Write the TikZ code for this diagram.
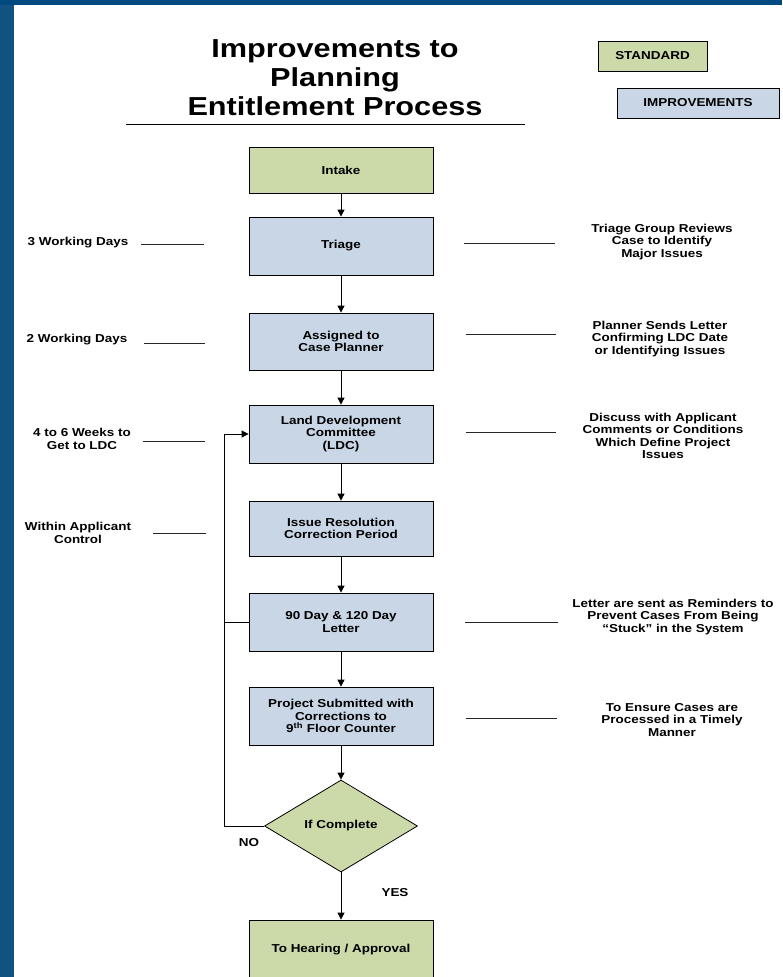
\documentclass[tikz,border=0pt]{standalone}
\usepackage{fontspec}
\newfontfamily\bodyfont{Liberation Sans}[FakeStretch=1.17]
\newfontfamily\headfont{Liberation Sans}[FakeStretch=1.18]
\usetikzlibrary{arrows.meta,shapes.geometric}

\definecolor{stdgreen}{RGB}{204,218,169}
\definecolor{impblue}{RGB}{200,214,230}
\definecolor{frameblue}{RGB}{17,82,128}
\definecolor{topblue}{RGB}{0,74,128}

\tikzset{
  txt/.style={font=\bodyfont\bfseries\fontsize{11.5}{12.4}\selectfont, align=center, inner sep=0pt},
  shadowed/.style={preaction={fill=black!45, transform canvas={xshift=1.2pt,yshift=-1.2pt}}},
  procbox/.style={txt, draw=black, line width=0.8pt, shadowed, minimum width=184pt},
  stdbox/.style={procbox, fill=stdgreen},
  impbox/.style={procbox, fill=impblue},
  flow/.style={draw=black, line width=0.8pt, -{Triangle[width=7pt,length=7pt]}},
  link/.style={draw=black, line width=0.8pt},
  tick/.style={draw=black!85, line width=1pt},
}

\begin{document}
\begin{tikzpicture}[x=1pt,y=-1pt]
  % page frame
  \useasboundingbox (0,0) rectangle (782,977);
  \fill[white] (0,0) rectangle (782,977);
  \fill[frameblue] (0,0) rectangle (14,977);
  \fill[topblue] (0,0) rectangle (782,5);

  % heading
  \node[font=\headfont\bfseries\fontsize{26}{29}\selectfont, align=center, inner sep=0pt]
    (title) at (335,78) {Improvements to\\Planning\\Entitlement Process};
  \coordinate (ulA) at (126,124);
  \coordinate (ulB) at (525,124);
  \draw[black, line width=1pt] (ulA) -- (ulB);

  % legend
  \node[stdbox, minimum width=109pt, minimum height=30pt] (legstd) at (652.5,56) {STANDARD};
  \node[impbox, minimum width=162pt, minimum height=30pt] (legimp) at (698,103) {IMPROVEMENTS};

  % process steps
  \node[stdbox, minimum height=46pt] (intake) at (341,170) {Intake};
  \node[impbox, minimum height=58pt] (triage) at (341,246) {Triage};
  \node[impbox, minimum height=57pt] (assign) at (341,341.5) {Assigned to\\Case Planner};
  \node[impbox, minimum height=58pt] (ldc) at (341,434) {Land Development\\Committee\\(LDC)};
  \node[impbox, minimum height=55pt] (issue) at (341,528.5) {Issue Resolution\\Correction Period};
  \node[impbox, minimum height=58pt] (letter) at (341,622) {90 Day \& 120 Day\\Letter};
  \node[impbox, minimum height=58pt] (submit) at (341,716) {Project Submitted with\\Corrections to\\9\textsuperscript{th} Floor Counter};
  \node[txt, diamond, draw=black, line width=0.8pt, fill=stdgreen,
        minimum width=153pt, minimum height=92pt] (decide) at (341,826) {If Complete};
  \node[stdbox, minimum height=60pt] (hearing) at (341,950) {To Hearing / Approval};

  % main flow
  \draw[flow] (intake) -- (triage);
  \draw[flow] (triage) -- (assign);
  \draw[flow] (assign) -- (ldc);
  \draw[flow] (ldc) -- (issue);
  \draw[flow] (issue) -- (letter);
  \draw[flow] (letter) -- (submit);
  \draw[flow] (submit) -- (decide);
  \draw[flow] (decide) -- (hearing);

  % return loop
  \draw[flow] (decide.west) -- ++(-40,0) |- (ldc.west);
  \draw[link] (letter.west) -- ++(-24,0);

  \node[txt] (no) at (249,843) {NO};
  \node[txt] (yes) at (395,893) {YES};

  % timing notes (left)
  \node[txt] (n1) at (78,243) {3 Working Days};
  \node[txt] (n2) at (77,340) {2 Working Days};
  \node[txt] (n3) at (82,439) {4 to 6 Weeks to\\Get to LDC};
  \node[txt] (n4) at (78,533) {Within Applicant\\Control};
  \draw[tick] (141,244) -- (204,244);
  \draw[tick] (144,343) -- (205,343);
  \draw[tick] (143,441) -- (205,441);
  \draw[tick] (153,533) -- (206,533);

  % remarks (right)
  \node[txt] (r1) at (662,242) {Triage Group Reviews\\Case to Identify\\Major Issues};
  \node[txt] (r2) at (660,339) {Planner Sends Letter\\Confirming LDC Date\\or Identifying Issues};
  \node[txt] (r3) at (663,436) {Discuss with Applicant\\Comments or Conditions\\Which Define Project\\Issues};
  \node[txt] (r4) at (673,617) {Letter are sent as Reminders to\\Prevent Cases From Being\\“Stuck” in the System};
  \node[txt] (r5) at (672,720) {To Ensure Cases are\\Processed in a Timely\\Manner};
  \draw[tick] (464,243) -- (555,243);
  \draw[tick] (466,334) -- (556,334);
  \draw[tick] (466,432) -- (556,432);
  \draw[tick] (465,622) -- (558,622);
  \draw[tick] (466,718) -- (557,718);
\end{tikzpicture}
\end{document}
